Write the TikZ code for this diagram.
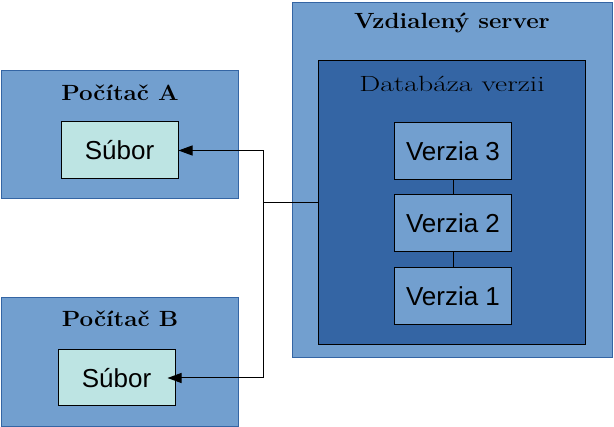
\documentclass[tikz,border=0pt]{standalone}
\usepackage{fontspec}
\newfontfamily\boxfont{Liberation Sans}
\newfontfamily\headfont[FakeStretch = 1.1]{Latin Modern Roman}
\newfontfamily\dbfont[FakeStretch = 1.35]{Latin Modern Roman}
\usetikzlibrary{arrows.meta}
\definecolor{lightblue}{HTML}{729FCF}
\definecolor{darkblue}{HTML}{3465A4}
\definecolor{filecolor}{HTML}{BDE4E3}
\begin{document}
\begin{tikzpicture}[x = 1pt, y = -1pt,
    machine/.style = {draw = darkblue, fill = lightblue, line width = 0.8pt, inner sep = 0pt},
    database/.style = {draw = black, fill = darkblue, line width = 1pt, inner sep = 0pt},
    filebox/.style = {draw = black, fill = filecolor, line width = 1pt, minimum width = 117pt,
                      font = \boxfont\fontsize{26}{30}\selectfont},
    version/.style = {draw = black, fill = lightblue, line width = 1pt, minimum width = 117pt,
                      minimum height = 57pt, font = \boxfont\fontsize{26}{30}\selectfont},
    heading/.style = {font = \headfont\bfseries\fontsize{22}{26}\selectfont},
    link/.style = {line width = 1pt},
    arrow/.style = {line width = 1pt, -{Triangle[length = 14pt, width = 10pt]}}]
      \useasboundingbox (0, 0) rectangle (614, 427);
      % computers
      \node [machine, minimum width = 237pt, minimum height = 128pt] (pcA) at (119.5, 134) {};
      \node [machine, minimum width = 237pt, minimum height = 129pt] (pcB) at (119.5, 361.5) {};
      \node [heading] (titleA) at (120, 93) {Počítač A};
      \node [heading] (titleB) at (120, 319) {Počítač B};
      \node [filebox, minimum height = 57pt] (fileA) at (119.5, 150.5) {Súbor};
      \node [filebox, minimum height = 56pt] (fileB) at (116.5, 378) {Súbor};
      % server
      \node [machine, minimum width = 320pt, minimum height = 355pt] (server) at (452, 179.5) {};
      \node [heading] (titleS) at (452, 23) {Vzdialený server};
      \node [database, minimum width = 267pt, minimum height = 284pt] (db) at (451.5, 203) {};
      \node [font = \dbfont\fontsize{22}{26}\selectfont] (titleD) at (452, 84) {Databáza verzii};
      \node [version] (v3) at (453, 151) {Verzia 3};
      \node [version] (v2) at (453, 223.5) {Verzia 2};
      \node [version] (v1) at (453, 296.5) {Verzia 1};
      \draw [link] (v3) -- (v2);
      \draw [link] (v2) -- (v1);
      % connectors
      \coordinate (split) at (263, 203);
      \draw [link] (db.west) -- (split);
      \draw [arrow] (split) |- (fileA.east);
      \draw [arrow] (split) |- ([xshift = -8pt] fileB.east);
    \end{tikzpicture}
\end{document}
